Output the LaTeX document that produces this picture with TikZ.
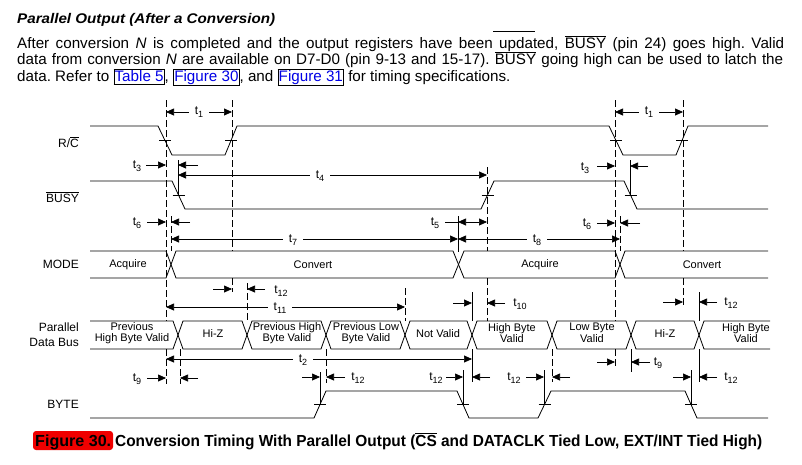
\documentclass[tikz,border=0pt]{standalone}
\usepackage{fontspec}
\setmainfont{Liberation Sans}
\usetikzlibrary{arrows.meta}
\definecolor{linkblue}{RGB}{0,0,230}
\definecolor{capred}{RGB}{240,0,0}
\newcommand\ovl[1]{\ensuremath{\overline{\mbox{#1}}}}
\newcommand\tsub[1]{t\raisebox{-2.8pt}{\fontsize{9}{9}\selectfont #1}}
\newcommand\linkbox[1]{{\setlength\fboxsep{0.4pt}\setlength\fboxrule{0.7pt}\fbox{\rule[-2.6pt]{0pt}{12.5pt}\textcolor{linkblue}{#1}}}}
\frenchspacing
\tikzset{
  wave/.style={line width=0.8pt, line join=miter},
  dim/.style={line width=0.7pt},
  tipr/.style={dim,-{Triangle[length=8pt,width=7pt]}},
  tipb/.style={dim,{Triangle[length=8pt,width=7pt]}-{Triangle[length=8pt,width=7pt]}},
  guide/.style={line width=0.7pt, dash pattern=on 7pt off 3pt},
  guides/.style={line width=0.7pt},
  lbl/.style={font=\fontsize{11}{11.5}\selectfont, align=center, inner sep=0pt},
  sig/.style={font=\fontsize{12}{15}\selectfont, anchor=east, align=right, inner sep=0pt},
  tl/.style={font=\fontsize{12}{12}\selectfont, inner sep=0pt},
  tlw/.style={tl, fill=white, inner xsep=6pt, inner ysep=1pt},
  para/.style={font=\fontsize{15.2}{16}\selectfont, anchor=base west, inner sep=0pt}
}
\begin{document}
\begin{tikzpicture}[x=1pt,y=-1pt]
\useasboundingbox[fill=white] (0,0) rectangle (802,464);

% ---------- heading and paragraph ----------
\node[para, font=\fontsize{14}{16}\selectfont] (head) at (17,23) {\resizebox{258pt}{\height}{\bfseries\itshape Parallel Output (After a Conversion)}};
\node[para] (p1) at (17,48) {\makebox[767pt][s]{After conversion \textit{N} is completed and the output registers have been updated, \ovl{BUSY} (pin 24) goes high. Valid}};
\node[para] (p2) at (17,64.5) {\makebox[766pt][s]{data from conversion \textit{N} are available on D7-D0 (pin 9-13 and 15-17). \ovl{BUSY} going high can be used to latch the}};
\node[para] (p3) at (17,81) {data. Refer to \linkbox{Table 5}, \linkbox{Figure 30}, and \linkbox{Figure 31} for timing specifications.};
\draw[line width=0.7pt] (493,31) -- (535,31);

% ---------- signal names ----------
\node[sig] (nrc) at (79,142) {R/\ovl{C}};
\node[sig] (nbusy) at (79,197) {\ovl{BUSY}};
\node[sig] (nmode) at (79,264) {MODE};
\node[sig] (nbus) at (79,334.5) {Parallel\\Data Bus};
\node[sig] (nbyte) at (79,404) {BYTE};

% ---------- waveforms ----------
\draw[wave] (90,126) -- (158,126) -- (172,155) -- (225,155) -- (237,126) -- (609,126) -- (623,155) -- (676,155) -- (688,126) -- (768,126);
\draw[wave] (90,181) -- (172,181) -- (185,209) -- (481,209) -- (494,181) -- (624,181) -- (637,209) -- (768,209);
\draw[wave] (90,251) -- (166,251) -- (176,278) -- (453,278) -- (464,251) -- (615,251) -- (625,278) -- (768,278);
\draw[wave] (90,278) -- (166,278) -- (176,251) -- (453,251) -- (464,278) -- (615,278) -- (625,251) -- (768,251);
\draw[wave] (90,321) -- (173,321) -- (183,349) -- (242,349) -- (252,321) -- (321,321) -- (331,349) -- (400,349) -- (410,321) -- (467,321) -- (477,349) -- (547,349) -- (557,321) -- (626,321) -- (636,349) -- (694,349) -- (704,321) -- (770,321);
\draw[wave] (90,349) -- (173,349) -- (183,321) -- (242,321) -- (252,349) -- (321,349) -- (331,321) -- (400,321) -- (410,349) -- (467,349) -- (477,321) -- (547,321) -- (557,349) -- (626,349) -- (636,321) -- (694,321) -- (704,349) -- (770,349);
\draw[wave] (90,418) -- (314,418) -- (326,391) -- (457,391) -- (469,418) -- (538,418) -- (551,391) -- (685,391) -- (697,418) -- (768,418);

% crossing ticks
\foreach \x/\y in {165/140.5, 231/140.5, 616/140.5, 682/140.5, 178.5/195, 487.5/195, 630.5/195, 320/404.5, 463/404.5, 544.5/404.5, 691/404.5}
  \draw[dim] (\x-6,\y) -- (\x+6,\y);

% ---------- bus labels ----------
\node[lbl] (m1) at (128,264.5) {Acquire};
\node[lbl] (m2) at (313,264.5) {Convert};
\node[lbl] (m3) at (540,264.5) {Acquire};
\node[lbl] (m4) at (702,264.5) {Convert};
\node[lbl] (d1) at (132,333) {Previous\\High Byte Valid};
\node[lbl] (d2) at (213,334) {Hi-Z};
\node[lbl] (d3) at (287,333) {Previous High\\Byte Valid};
\node[lbl] (d4) at (366,333) {Previous Low\\Byte Valid};
\node[lbl] (d5) at (438,334) {Not Valid};
\node[lbl] (d6) at (512,333) {High Byte\\Valid};
\node[lbl] (d7) at (592,333) {Low Byte\\Valid};
\node[lbl] (d8) at (665,334) {Hi-Z};
\node[lbl] (d9) at (746,333) {High Byte\\Valid};

% ---------- guide lines (broken inside the bus bands) ----------
\draw[guide] (166,100) -- (166,321) (166,349) -- (166,384);
\draw[guide] (232,100) -- (232,251) (232,278) -- (232,292);
\draw[guide] (615,100) -- (615,321) (615,349) -- (615,368);
\draw[guide] (683,100) -- (683,251) (683,278) -- (683,308);
\draw[guide] (487,167) -- (487,251) (487,278) -- (487,321);
\draw[guide] (171,216) -- (171,251);
\draw[guide] (620,216) -- (620,251);
\draw[guide] (247,283) -- (247,321);
\draw[guide] (405,288) -- (405,321);
\draw[guide] (180,349) -- (180,384);
\draw[guide] (326,349) -- (326,383);
\draw[guide] (552,349) -- (552,382);
\draw[guides] (178,160) -- (178,196);
\draw[guides] (630,160) -- (630,196);
\draw[guides] (458,216) -- (458,252);
\draw[guides] (472,292) -- (472,321);
\draw[guides] (472,349) -- (472,382);
\draw[guides] (699,292) -- (699,321);
\draw[guides] (699,349) -- (699,382);
\draw[guides] (631,349) -- (631,372);
\draw[guides] (320,372) -- (320,405);
\draw[guides] (463,370) -- (463,405);
\draw[guides] (544,370) -- (544,405);
\draw[guides] (691,370) -- (691,405);

% ---------- timing dimensions ----------
% t1
\draw[tipb] (166,112) -- (232,112);
\node[tlw] (t1a) at (199,112) {\tsub{1}};
\draw[tipb] (615,112) -- (683,112);
\node[tlw] (t1b) at (649,112) {\tsub{1}};
% t3
\node[tl] (t3a) at (137,166) {\tsub{3}};
\draw[tipr] (146,165) -- (166,165);
\draw[tipr] (198,165) -- (178,165);
\node[tl] (t3b) at (585,168) {\tsub{3}};
\draw[tipr] (597,166) -- (615,166);
\draw[tipr] (648,166) -- (630,166);
% t4
\draw[tipb] (178,175) -- (487,175);
\node[tlw] (t4) at (320,176) {\tsub{4}};
% t6
\node[tl] (t6a) at (137,223) {\tsub{6}};
\draw[tipr] (147,222) -- (166,222);
\draw[tipr] (190,222) -- (171,222);
\node[tl] (t6b) at (587,224) {\tsub{6}};
\draw[tipr] (597,223) -- (615,223);
\draw[tipr] (640,223) -- (620,223);
% t5
\node[tl] (t5) at (435,223) {\tsub{5}};
\draw[dim] (445,222) -- (458,222);
\draw[tipb] (458,222) -- (487,222);
% t7, t8
\draw[tipb] (171,239) -- (458,239);
\node[tlw] (t7) at (293,240) {\tsub{7}};
\draw[tipb] (458,239) -- (620,239);
\node[tlw] (t8) at (537,240) {\tsub{8}};
% t12 upper left
\draw[tipr] (213,289) -- (232,289);
\draw[tipr] (265,289) -- (247,289);
\node[tl] (t12a) at (281,291) {\tsub{12}};
% t11
\draw[tipb] (166,307) -- (405,307);
\node[tlw] (t11) at (280,308) {\tsub{11}};
% t10
\draw[tipr] (453,303) -- (472,303);
\draw[tipr] (505,303) -- (487,303);
\node[tl] (t10) at (520,304) {\tsub{10}};
% t12 upper right
\draw[tipr] (663,302) -- (683,302);
\draw[tipr] (717,302) -- (699,302);
\node[tl] (t12b) at (731,303) {\tsub{12}};
% t2
\draw[tipb] (166,359) -- (472,359);
\node[tlw] (t2) at (303,360) {\tsub{2}};
% t9
\node[tl] (t9a) at (137,379) {\tsub{9}};
\draw[tipr] (147,378) -- (166,378);
\draw[tipr] (198,378) -- (180,378);
\draw[tipr] (597,362) -- (615,362);
\draw[tipr] (650,362) -- (631,362);
\node[tl] (t9b) at (658,363) {\tsub{9}};
% t12 lower
\draw[tipr] (302,377) -- (320,377);
\draw[tipr] (345,377) -- (326,377);
\node[tl] (t12c) at (358,378) {\tsub{12}};
\node[tl] (t12d) at (436,378) {\tsub{12}};
\draw[tipr] (446,377) -- (463,377);
\draw[tipr] (490,377) -- (472,377);
\node[tl] (t12e) at (514,378) {\tsub{12}};
\draw[tipr] (526,377) -- (544,377);
\draw[tipr] (570,377) -- (552,377);
\draw[tipr] (673,377) -- (691,377);
\draw[tipr] (717,377) -- (699,377);
\node[tl] (t12f) at (731,378) {\tsub{12}};

% ---------- caption ----------
\fill[capred, rounded corners=3pt] (33,431) rectangle (113,450);
\node[anchor=base west, inner sep=0pt, font=\fontsize{16}{16}\selectfont\bfseries] (fig) at (35,446) {\resizebox{76pt}{\height}{Figure 30.}};
\node[anchor=base west, inner sep=0pt, font=\fontsize{16}{16}\selectfont\bfseries] (cap) at (115,446) {\resizebox{647pt}{\height}{Conversion Timing With Parallel Output (\ovl{CS} and DATACLK Tied Low, EXT/INT Tied High)}};
\end{tikzpicture}
\end{document}
